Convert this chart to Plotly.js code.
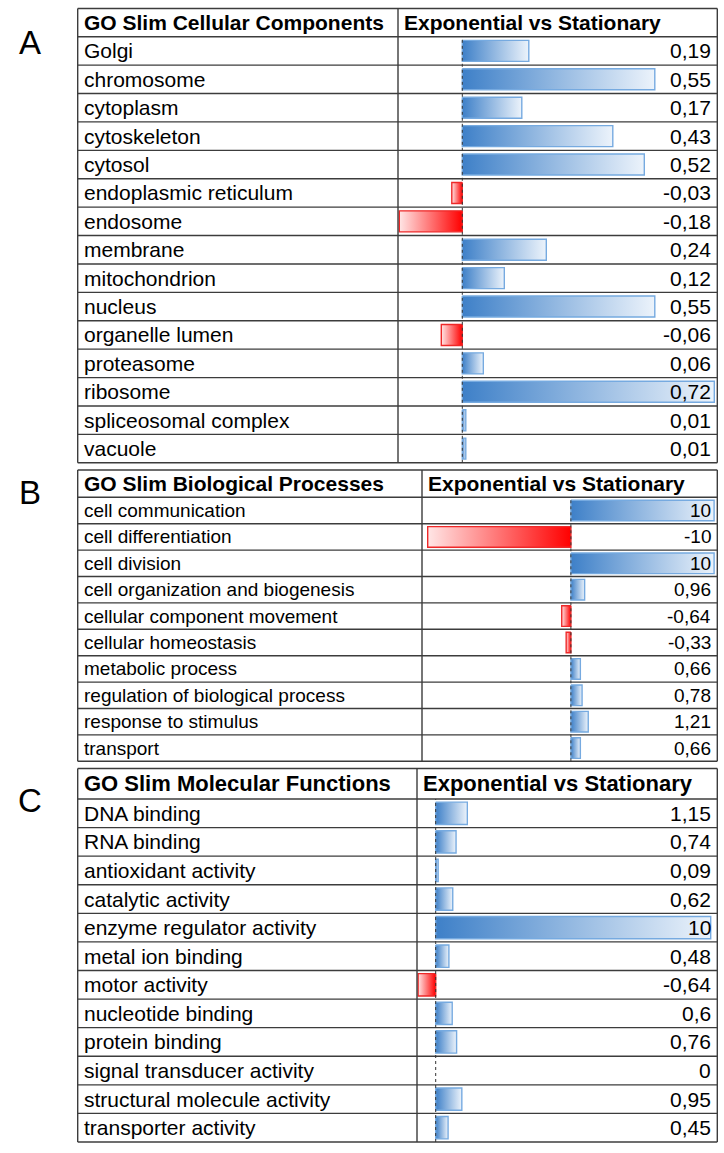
<!DOCTYPE html>
<html><head><meta charset="utf-8">
<script src="https://cdn.plot.ly/plotly-3.0.1.min.js"></script>
<style>html,body{margin:0;padding:0;background:#fff}</style>
</head><body><div id="chart" style="width:724px;height:1153px"></div>
<script>
// ---------------- DATA ----------------
const ccCategories = ['Golgi','chromosome','cytoplasm','cytoskeleton','cytosol','endoplasmic reticulum','endosome','membrane','mitochondrion','nucleus','organelle lumen','proteasome','ribosome','spliceosomal complex','vacuole'];
const ccValues = [0.19,0.55,0.17,0.43,0.52,-0.03,-0.18,0.24,0.12,0.55,-0.06,0.06,0.72,0.01,0.01];

const bpCategories = ['cell communication','cell differentiation','cell division','cell organization and biogenesis','cellular component movement','cellular homeostasis','metabolic process','regulation of biological process','response to stimulus','transport'];
const bpValues = [10,-10,10,0.96,-0.64,-0.33,0.66,0.78,1.21,0.66];

const mfCategories = ['DNA binding','RNA binding','antioxidant activity','catalytic activity','enzyme regulator activity','metal ion binding','motor activity','nucleotide binding','protein binding','signal transducer activity','structural molecule activity','transporter activity'];
const mfValues = [1.15,0.74,0.09,0.62,10,0.48,-0.64,0.6,0.76,0,0.95,0.45];

const panelLetters = ['A','B','C'];
const headerLeft = ['GO Slim Cellular Components','GO Slim Biological Processes','GO Slim Molecular Functions'];
const headerRight = 'Exponential vs Stationary';

// ---------------- LAYOUT GEOMETRY (pixels) ----------------
const W = 724, H = 1153;
const FONT = 'Liberation Sans, Arial, sans-serif';
const panels = [
  {cats: ccCategories, vals: ccValues, top: 8.5, hb: 36.7, bottom: 462.8, left: 77.7, div: 398, right: 717.3, zero: 462.3, ppu: 350, half: 0.37, lab: 21, head: 21, letterY: 42},
  {cats: bpCategories, vals: bpValues, top: 470, hb: 497.3, bottom: 761.3, left: 77.7, div: 422, right: 717.3, zero: 570.9, ppu: 14.32, half: 0.39, lab: 19, head: 21, letterY: 492},
  {cats: mfCategories, vals: mfValues, top: 768.5, hb: 799, bottom: 1142, left: 77.7, div: 417, right: 717.3, zero: 435.7, ppu: 27.5, half: 0.39, lab: 21, head: 22, letterY: 800}
];

const px = x => x / W;
const py = y => 1 - y / H;
const fmt = v => String(v).replace('.', ',');

const traces = [];
const shapes = [];
const annotations = [];
const layout = {
  width: W, height: H,
  margin: {l: 0, r: 0, t: 0, b: 0},
  paper_bgcolor: '#fff', plot_bgcolor: 'rgba(0,0,0,0)',
  showlegend: false, hovermode: false,
  shapes: shapes, annotations: annotations
};

const BLUE_DARK = 'rgb(62,128,200)', BLUE_LIGHT = 'rgb(236,243,251)', BLUE_LINE = 'rgb(118,170,224)';
const RED_DARK = 'rgb(255,0,0)', RED_LIGHT = 'rgb(255,230,230)', RED_LINE = 'rgb(238,40,40)';
const GRID = '#3c3c3c';

panels.forEach((p, k) => {
  const n = p.cats.length;
  const sfx = k === 0 ? '' : String(k + 1);
  const xa = 'x' + sfx, ya = 'y' + sfx;
  const xmin = -(p.zero - p.div) / p.ppu;
  const xmax = (p.right - p.zero) / p.ppu;
  layout['xaxis' + sfx] = {domain: [px(p.div), px(p.right)], range: [xmin, xmax], anchor: ya,
    showgrid: false, zeroline: false, showticklabels: false, ticks: '', showline: false, fixedrange: true};
  layout['yaxis' + sfx] = {domain: [py(p.bottom), py(p.hb)], range: [n - 0.5, -0.5], anchor: xa,
    showgrid: false, zeroline: false, showticklabels: false, ticks: '', showline: false, fixedrange: true};

  // bars (data bars with gradient)
  p.vals.forEach((v, i) => {
    if (v === 0) return;
    const pos = v > 0;
    traces.push({
      type: 'scatter', mode: 'lines', xaxis: xa, yaxis: ya,
      x: [0, v, v, 0, 0],
      y: [i - p.half, i - p.half, i + p.half, i + p.half, i - p.half],
      fill: 'toself',
      fillgradient: pos
        ? {type: 'horizontal', start: 0, stop: v, colorscale: [[0, BLUE_DARK], [1, BLUE_LIGHT]]}
        : {type: 'horizontal', start: v, stop: 0, colorscale: [[0, RED_LIGHT], [1, RED_DARK]]},
      line: {color: pos ? BLUE_LINE : RED_LINE, width: 1.4},
      hoverinfo: 'skip'
    });
  });

  // category labels and values
  p.cats.forEach((c, i) => {
    annotations.push({xref: 'paper', yref: ya, x: px(p.left + 4.5), y: i, text: c, showarrow: false,
      xanchor: 'left', yanchor: 'middle', font: {family: FONT, size: p.lab, color: '#000'}});
    annotations.push({xref: 'paper', yref: ya, x: px(p.right - 4.5), y: i, text: fmt(p.vals[i]), showarrow: false,
      xanchor: 'right', yanchor: 'middle', font: {family: FONT, size: p.lab, color: '#000'}});
  });

  // headers
  const hy = py((p.top + p.hb) / 2);
  annotations.push({xref: 'paper', yref: 'paper', x: px(p.left + 4.5), y: hy, text: '<b>' + headerLeft[k] + '</b>',
    showarrow: false, xanchor: 'left', yanchor: 'middle', font: {family: FONT, size: p.head, color: '#000'}});
  annotations.push({xref: 'paper', yref: 'paper', x: px(p.div + 4), y: hy, text: '<b>' + headerRight + '</b>',
    showarrow: false, xanchor: 'left', yanchor: 'middle', font: {family: FONT, size: p.head, color: '#000'}});

  // panel letter
  annotations.push({xref: 'paper', yref: 'paper', x: px(30), y: py(p.letterY), text: panelLetters[k],
    showarrow: false, xanchor: 'center', yanchor: 'middle', font: {family: FONT, size: 33, color: '#000'}});

  // table grid
  const line = (x0, y0, x1, y1, w) => shapes.push({type: 'line', xref: 'paper', yref: 'paper',
    x0: px(x0), y0: py(y0), x1: px(x1), y1: py(y1), line: {color: GRID, width: w}});
  line(p.left, p.top, p.right, p.top, 1.4);
  line(p.left, p.hb, p.right, p.hb, 1.4);
  line(p.left, p.bottom, p.right, p.bottom, 1.6);
  line(p.left, p.top, p.left, p.bottom, 1.4);
  line(p.right, p.top, p.right, p.bottom, 1.4);
  line(p.div, p.top, p.div, p.bottom, 1.4);
  for (let i = 0; i < n - 1; i++) {
    shapes.push({type: 'line', xref: 'paper', yref: ya, x0: px(p.left), x1: px(p.right), y0: i + 0.5, y1: i + 0.5,
      line: {color: GRID, width: 1.4}});
  }
  // zero axis (dotted)
  shapes.push({type: 'line', xref: xa, yref: 'paper', x0: 0, x1: 0, y0: py(p.bottom), y1: py(p.hb),
    line: {color: '#333', width: 1, dash: 'dot'}});
});

Plotly.newPlot('chart', traces, layout, {displayModeBar: false, staticPlot: true});
</script>
</body></html>
